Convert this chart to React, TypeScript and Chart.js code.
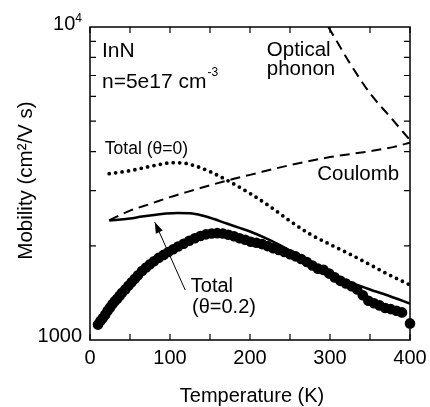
import React, { useEffect, useRef } from 'react';
import { Chart, registerables } from 'chart.js';

Chart.register(...registerables);

// ---- data ----
const measuredT = [10, 13, 16, 19, 22, 25, 28, 31, 34, 37, 40, 44, 48, 52, 56, 60, 65, 70, 75, 80, 86, 92, 98, 104, 110, 117, 124, 131, 138, 145, 152, 159, 166, 173, 180, 187, 194, 201, 208, 215, 222, 229, 236, 243, 250, 257, 264, 271, 278, 285, 292, 299, 306, 313, 320, 327, 334, 341, 348, 355, 362, 369, 376, 383, 390, 400];
const measuredMobility = [1120, 1150, 1175, 1205, 1240, 1270, 1300, 1330, 1355, 1385, 1415, 1450, 1490, 1530, 1570, 1610, 1660, 1705, 1745, 1785, 1830, 1870, 1910, 1950, 1990, 2030, 2075, 2115, 2150, 2175, 2190, 2195, 2190, 2170, 2145, 2115, 2090, 2060, 2045, 2025, 1995, 1965, 1940, 1910, 1880, 1850, 1815, 1775, 1730, 1690, 1675, 1630, 1585, 1545, 1515, 1485, 1450, 1390, 1335, 1310, 1290, 1265, 1255, 1240, 1225, 1130];

const total02T = [24, 35, 50, 65, 80, 95, 110, 125, 140, 155, 170, 185, 200, 225, 250, 275, 300, 325, 350, 375, 400];
const total02Mobility = [2410, 2420, 2445, 2480, 2510, 2535, 2545, 2540, 2500, 2435, 2360, 2290, 2222, 2085, 1930, 1760, 1630, 1530, 1450, 1380, 1307];

const total0T = [24, 50, 75, 90, 102, 115, 130, 150, 175, 200, 225, 250, 275, 300, 325, 350, 375, 400];
const total0Mobility = [3400, 3475, 3585, 3650, 3685, 3680, 3610, 3450, 3200, 2940, 2670, 2400, 2180, 2020, 1880, 1740, 1610, 1500];

const coulombT = [24, 50, 75, 100, 125, 150, 175, 200, 250, 300, 350, 380, 400];
const coulombMobility = [2415, 2590, 2720, 2860, 2990, 3120, 3250, 3370, 3620, 3840, 4010, 4140, 4270];

const opticalT = [298, 310, 325, 350, 375, 400];
const opticalMobility = [10000, 8870, 7650, 6140, 5170, 4350];

const xMajorTicks = [0, 100, 200, 300, 400];
const xMinorTicks = [50, 150, 250, 350];
const yMinorTicks = [2000, 3000, 4000, 5000, 6000, 7000, 8000, 9000];

const FONT = '"Liberation Sans", Arial, Helvetica, sans-serif';

const pts = (xs: number[], ys: number[]) => xs.map((x, i) => ({ x, y: ys[i] }));

const decorPlugin = {
  id: 'decor',
  afterDraw(chart: any) {
    const { ctx, chartArea: a, scales } = chart;
    const x = scales.x;
    const y = scales.y;
    const X = (v: number) => x.getPixelForValue(v);
    const Y = (v: number) => y.getPixelForValue(v);
    ctx.save();
    ctx.strokeStyle = '#000';
    ctx.fillStyle = '#000';

    // frame
    ctx.lineWidth = 1.5;
    ctx.strokeRect(a.left, a.top, a.right - a.left, a.bottom - a.top);

    // ticks (inward)
    ctx.lineWidth = 1.2;
    ctx.beginPath();
    for (const t of [...xMajorTicks, ...xMinorTicks]) {
      const px = X(t);
      ctx.moveTo(px, a.bottom);
      ctx.lineTo(px, a.bottom - 6);
      ctx.moveTo(px, a.top);
      ctx.lineTo(px, a.top + 6);
    }
    for (const v of yMinorTicks) {
      const py = Y(v);
      ctx.moveTo(a.left, py);
      ctx.lineTo(a.left + 6, py);
      ctx.moveTo(a.right, py);
      ctx.lineTo(a.right - 6, py);
    }
    ctx.stroke();

    // x tick labels
    ctx.font = `20px ${FONT}`;
    ctx.textAlign = 'center';
    ctx.textBaseline = 'alphabetic';
    for (const t of xMajorTicks) ctx.fillText(String(t), X(t), a.bottom + 24);

    // y tick labels
    ctx.textAlign = 'right';
    ctx.fillText('1000', a.left - 8, Y(1000) + 2);
    ctx.font = `12px ${FONT}`;
    const supW = ctx.measureText('4').width;
    ctx.fillText('4', a.left - 8, Y(10000) - 5);
    ctx.font = `20px ${FONT}`;
    ctx.fillText('10', a.left - 8 - supW, Y(10000) + 3);

    // axis titles
    ctx.textAlign = 'center';
    ctx.fillText('Temperature (K)', (a.left + a.right) / 2 + 2, 402);
    ctx.save();
    ctx.translate(32, (a.top + a.bottom) / 2 - 3);
    ctx.rotate(-Math.PI / 2);
    ctx.font = `20.5px ${FONT}`;
    ctx.fillText('Mobility (cm\u00B2/V s)', 0, 0);
    ctx.restore();

    // annotations
    ctx.textAlign = 'left';
    ctx.font = `21px ${FONT}`;
    ctx.fillText('InN', X(15), Y(8020));
    const nText = 'n=5e17 cm';
    ctx.fillText(nText, X(15), Y(6384));
    const nW = ctx.measureText(nText).width;
    ctx.font = `12px ${FONT}`;
    ctx.fillText('-3', X(15) + nW + 1, Y(6384) - 12);

    ctx.font = `17.5px ${FONT}`;
    ctx.fillText('Total (\u03B8=0)', X(18.5), Y(3927));

    ctx.font = `20.5px ${FONT}`;
    ctx.fillText('Optical', X(221), Y(8079));
    ctx.fillText('phonon', X(221), Y(7000));
    ctx.fillText('Coulomb', X(284), Y(3245));

    ctx.font = `20px ${FONT}`;
    ctx.fillText('Total', X(126), Y(1423));
    ctx.fillText('(\u03B8=0.2)', X(127.5), Y(1219));

    // arrow
    const tx = X(81), ty = Y(2380);
    const sx = X(119), sy = Y(1445);
    ctx.lineWidth = 1;
    ctx.beginPath();
    ctx.moveTo(sx, sy);
    ctx.lineTo(tx, ty);
    ctx.stroke();
    const ang = Math.atan2(ty - sy, tx - sx);
    const L = 11, W = 3.8;
    const bx = tx - L * Math.cos(ang), by = ty - L * Math.sin(ang);
    ctx.beginPath();
    ctx.moveTo(tx, ty);
    ctx.lineTo(bx + W * Math.sin(ang), by - W * Math.cos(ang));
    ctx.lineTo(bx - W * Math.sin(ang), by + W * Math.cos(ang));
    ctx.closePath();
    ctx.fill();

    ctx.restore();
  },
};

export default function App() {
  const canvasRef = useRef<HTMLCanvasElement | null>(null);

  useEffect(() => {
    const canvas = canvasRef.current;
    if (!canvas) return;
    const chart = new Chart(canvas, {
      type: 'line',
      data: {
        datasets: [
          {
            label: 'Optical phonon',
            data: pts(opticalT, opticalMobility),
            borderColor: '#000',
            borderWidth: 2,
            borderDash: [10, 6],
            pointRadius: 0,
            cubicInterpolationMode: 'monotone',
            fill: false,
          },
          {
            label: 'Coulomb',
            data: pts(coulombT, coulombMobility),
            borderColor: '#000',
            borderWidth: 2,
            borderDash: [10, 6],
            pointRadius: 0,
            cubicInterpolationMode: 'monotone',
            fill: false,
          },
          {
            label: 'Total (θ=0)',
            data: pts(total0T, total0Mobility),
            borderColor: '#000',
            borderWidth: 3.8,
            borderDash: [0, 6.5],
            borderCapStyle: 'round',
            pointRadius: 0,
            cubicInterpolationMode: 'monotone',
            fill: false,
          },
          {
            label: 'Total (θ=0.2)',
            data: pts(total02T, total02Mobility),
            borderColor: '#000',
            borderWidth: 2.5,
            pointRadius: 0,
            cubicInterpolationMode: 'monotone',
            fill: false,
          },
          {
            label: 'Measured',
            data: pts(measuredT, measuredMobility),
            showLine: false,
            pointRadius: 5.3,
            pointBackgroundColor: '#000',
            pointBorderColor: '#000',
            pointBorderWidth: 0,
            clip: false,
          } as any,
        ],
      },
      options: {
        animation: false,
        responsive: false,
        maintainAspectRatio: false,
        devicePixelRatio: 1,
        layout: { padding: { left: 90, top: 27, right: 20, bottom: 67 } },
        plugins: {
          legend: { display: false },
          tooltip: { enabled: false },
        },
        scales: {
          x: { type: 'linear', min: 0, max: 400, display: false },
          y: { type: 'logarithmic', min: 1000, max: 10000, display: false },
        },
      },
      plugins: [decorPlugin],
    } as any);
    return () => chart.destroy();
  }, []);

  return (
    <div style={{ position: 'fixed', left: 0, top: 0, width: 430, height: 407, background: '#fff' }}>
      <canvas ref={canvasRef} width={430} height={407} style={{ width: 430, height: 407, display: 'block' }} />
    </div>
  );
}
